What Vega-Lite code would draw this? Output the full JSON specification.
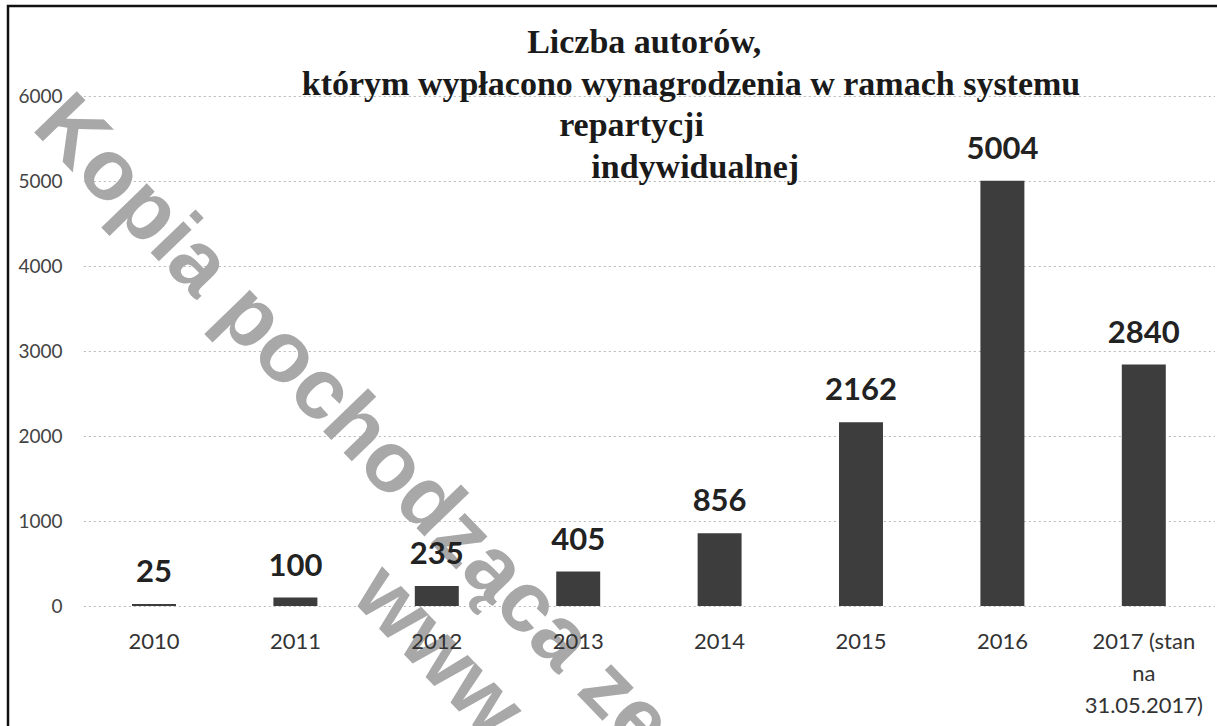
{
  "$schema": "https://vega.github.io/schema/vega-lite/v6.json",
  "autosize": {"type": "none"},
  "padding": {"left": 8, "top": 6, "right": -5, "bottom": -5},
  "width": 1214,
  "height": 725,
  "background": "white",
  "config": {
    "view": {"stroke": "#111111", "strokeWidth": 2.5},
    "font": "Lato"
  },
  "title": {
    "text": [
      "Liczba autorów,\u00a0\u00a0\u00a0\u00a0\u00a0\u00a0\u00a0\u00a0\u00a0\u00a0\u00a0\u2060",
      "którym wypłacono wynagrodzenia w ramach systemu",
      "repartycji\u00a0\u00a0\u00a0\u00a0\u00a0\u00a0\u00a0\u00a0\u00a0\u00a0\u00a0\u00a0\u00a0\u00a0\u2060",
      "\u2060\u00a0indywidualnej"
    ],
    "frame": "group",
    "anchor": "middle",
    "orient": "top",
    "baseline": "top",
    "offset": -178.5,
    "dx": 76,
    "font": "Liberation Serif",
    "fontSize": 34,
    "fontWeight": "bold",
    "lineHeight": 41.5,
    "color": "#1a1a1a"
  },
  "data": {
    "values": [
      {"year": "2010", "value": 25},
      {"year": "2011", "value": 100},
      {"year": "2012", "value": 235},
      {"year": "2013", "value": 405},
      {"year": "2014", "value": 856},
      {"year": "2015", "value": 2162},
      {"year": "2016", "value": 5004},
      {"year": "2017 (stan na 31.05.2017)", "value": 2840}
    ]
  },
  "encoding": {
    "x": {
      "field": "year",
      "type": "nominal",
      "sort": null,
      "scale": {
        "domain": ["2010", "2011", "2012", "2013", "2014", "2015", "2016", "2017 (stan na 31.05.2017)"],
        "range": [75.3, 1206.5],
        "paddingInner": 0.689,
        "paddingOuter": 0.3445
      },
      "axis": {
        "title": null,
        "orient": "bottom",
        "offset": -100,
        "labelPadding": 0,
        "ticks": false,
        "tickSize": 0,
        "domain": false,
        "grid": false,
        "labelAngle": 0,
        "labelFont": "Lato",
        "labelFontSize": 22,
        "labelColor": "#333333",
        "labelLineHeight": 32,
        "labelLimit": 0,
        "labelOverlap": false,
        "zindex": 1,
        "labelExpr": "datum.label == '2017 (stan na 31.05.2017)' ? ['2017 (stan', 'na', '31.05.2017)'] : datum.label"
      }
    },
    "y": {
      "field": "value",
      "type": "quantitative",
      "scale": {"domain": [0, 6000], "range": [600, 90], "nice": false, "zero": true},
      "axis": {
        "title": null,
        "orient": "left",
        "offset": -54,
        "labelPadding": 0,
        "ticks": false,
        "tickSize": 0,
        "domain": false,
        "grid": true,
        "gridColor": "#b8b8b8",
        "gridDash": [2, 3],
        "gridWidth": 1,
        "values": [0, 1000, 2000, 3000, 4000, 5000, 6000],
        "format": "d",
        "labelFont": "Lato",
        "labelFontSize": 19,
        "labelColor": "#444444"
      }
    }
  },
  "layer": [
    {
      "transform": [{"filter": "datum.year == '2010'"}],
      "mark": {
        "type": "text",
        "text": "Kopia pochodząca ze",
        "angle": 46,
        "align": "left",
        "baseline": "alphabetic",
        "font": "Liberation Sans",
        "fontWeight": "bold",
        "fontSize": 86,
        "color": "#a8a8a8",
        "dx": -178
      },
      "encoding": {
        "x": {"datum": "2010", "type": "nominal"},
        "y": {"datum": 4114, "type": "quantitative"}
      }
    },
    {
      "transform": [{"filter": "datum.year == '2010'"}],
      "mark": {
        "type": "text",
        "text": "www.",
        "angle": 46,
        "align": "left",
        "baseline": "alphabetic",
        "font": "Liberation Sans",
        "fontWeight": "bold",
        "fontSize": 86,
        "color": "#a8a8a8",
        "dx": 78
      },
      "encoding": {
        "x": {"datum": "2011", "type": "nominal"},
        "y": {"datum": 753, "type": "quantitative"}
      }
    },
    {
      "mark": {"type": "bar", "color": "#3d3d3d"}
    },
    {
      "mark": {
        "type": "text",
        "baseline": "alphabetic",
        "dy": -22,
        "font": "Lato",
        "fontSize": 31,
        "fontWeight": "bold",
        "color": "#222222"
      },
      "encoding": {"text": {"field": "value", "type": "quantitative", "format": "d"}}
    }
  ]
}
